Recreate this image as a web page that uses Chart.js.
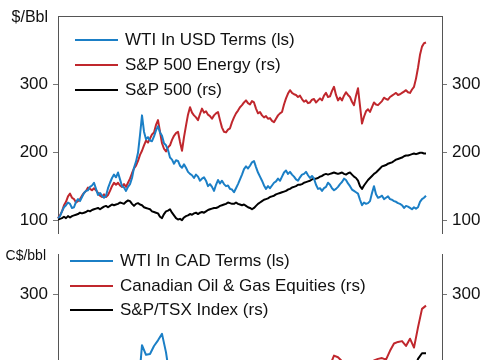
<!DOCTYPE html>
<html>
<head>
<meta charset="utf-8">
<script src="https://cdn.jsdelivr.net/npm/chart.js@4.4.1/dist/chart.umd.min.js"></script>
<style>
  html, body { margin:0; padding:0; background:#fff; }
  body { width:485px; height:360px; overflow:hidden; position:relative; font-family:"Liberation Sans", Arial, sans-serif; color:#111; }
  canvas { position:absolute; left:0; }
  #c1 { top:0; }
  #c2 { top:238px; }
  .unit { position:absolute; white-space:nowrap; text-align:right; }
  .leg { position:absolute; white-space:nowrap; font-size:17px; line-height:20px; height:20px; }
  .leg span.ln { position:absolute; top:9px; height:2px; }
  .leg span.tx { position:absolute; top:0; }
</style>
</head>
<body>
<canvas id="c1" width="485" height="249"></canvas>
<canvas id="c2" width="485" height="249"></canvas>

<div class="unit" style="left:0;width:48px;top:7px;font-size:16px;line-height:20px;">$/Bbl</div>
<div class="unit" style="left:0;width:46px;top:246px;font-size:14px;line-height:18px;">C$/bbl</div>

<div id="legTop"></div>
<div id="legBot"></div>

<script>
// ---------- DATA ----------
const tickValues = [100, 200, 300];
const nTop = 193;    // top panel periods across the full axis width
const nBottom = 97;  // bottom panel periods across the full axis width

// Top panel (rebased, $/Bbl & index)
const wtiUsd = [
  103,106,113,119,122,126,124,118,119,127,131,128,134,140,143,144,149,151,155,146,
  137,140,136,133,136,147,155,162,167,163,170,160,150,148,143,149,153,162,177,186,
  199,225,254,230,219,222,217,216,223,232,238,229,224,213,210,203,192,189,183,188,
  187,180,177,182,177,171,168,166,162,167,164,158,161,163,158,150,153,149,143,152,
  159,154,158,153,150,151,146,145,141,147,153,160,167,175,179,176,180,185,187,178,
  170,164,158,151,146,150,147,151,155,157,161,158,164,170,173,168,171,167,164,160,
  158,163,167,168,171,166,162,165,161,152,146,147,143,147,149,155,152,147,144,146,
  149,153,156,161,159,154,150,145,143,141,139,130,122,126,124,125,128,140,150,138,
  133,134,136,131,133,135,131,130,128,127,125,124,122,118,121,120,118,116,119,117,
  119,127,131,133,136];
const spEnergy = [
  103,107,113,122,127,135,139,133,131,126,128,131,136,140,143,148,146,144,147,144,
  140,136,134,138,134,137,143,150,155,152,155,151,149,153,149,155,161,169,176,180,
  187,196,202,210,217,214,220,226,229,240,247,230,213,205,201,207,210,218,224,228,
  230,215,202,222,239,255,266,258,254,251,247,256,264,258,260,255,253,249,254,257,
  259,247,236,230,229,233,235,244,251,257,261,266,269,273,276,272,270,275,273,264,
  257,259,254,251,253,249,250,246,244,249,254,257,259,270,279,286,291,287,285,284,
  281,283,278,274,276,272,273,277,278,273,276,279,276,283,287,281,282,290,296,284,
  276,280,276,283,288,284,281,274,269,283,294,268,242,252,260,263,259,266,273,270,
  269,272,275,280,278,277,281,283,285,287,284,285,287,289,291,288,287,292,296,308,
  324,343,355,360,361];
const sp500 = [
  101,102,103,105,103,106,104,106,107,108,109,111,110,111,112,114,113,115,116,117,
  118,116,118,120,121,119,121,123,122,123,124,126,125,124,127,129,128,124,121,124,
  125,123,122,119,118,117,116,113,112,111,110,105,103,109,113,114,116,111,107,103,
  101,102,100,104,106,107,109,108,110,111,109,111,112,111,113,115,116,117,118,118,
  119,121,122,123,124,126,125,124,124,126,124,123,122,123,121,119,118,116,118,121,
  124,126,128,130,131,132,134,135,136,138,139,140,141,142,143,145,146,148,149,150,
  152,152,153,155,156,157,158,160,161,161,162,164,165,167,168,167,168,169,170,169,
  168,169,170,168,167,169,170,167,164,162,158,150,146,151,155,159,162,165,168,170,
  173,176,179,180,181,183,184,185,187,189,190,191,192,194,195,195,196,197,198,197,
  198,199,199,198,198];

// Bottom panel (rebased, C$/bbl & index)
const wtiCad = [100,110,116,115,111,120,122,128,133,138,
  124,123,121,136,146,148,133,128,136,156,
  178,237,225,226,236,243,251,228,195,172,
  168,160,158,150,146,148,146,143,140,132,
  142,141,135,133,128,136,150,162,165,172,
  158,150,140,142,150,156,160,168,166,160,
  155,162,166,158,156,142,140,146,150,144,
  148,154,157,148,142,138,118,122,126,150,
  132,135,132,130,126,124,120,119,116,118,
  118,128,134];
const canOilGas = [100,108,115,124,120,122,128,135,138,140,
  135,130,132,140,150,152,146,148,155,165,
  172,180,188,185,190,198,175,165,170,178,
  180,165,180,190,185,180,188,185,180,178,
  182,170,165,168,175,180,185,190,186,188,
  175,170,165,160,155,158,162,170,175,172,
  168,170,172,168,170,175,178,185,212,224,
  222,217,205,190,185,188,160,175,195,218,
  220,221,219,230,239,241,242,236,245,234,
  259,282,286];
const tsx = [100,103,105,108,110,113,116,120,124,128,
  130,133,136,140,144,148,150,152,155,150,
  152,145,140,130,115,105,110,118,125,130,
  134,128,130,134,128,125,126,130,134,132,
  130,133,136,140,142,144,146,148,150,142,
  136,130,138,144,150,152,155,156,158,160,
  156,158,160,162,164,160,164,168,170,168,
  170,172,174,170,168,160,140,152,162,168,
  174,180,186,192,196,194,192,190,195,205,
  220,227,227];

const topLegend = ['WTI In USD Terms (ls)', 'S&P 500 Energy (rs)', 'S&P 500 (rs)'];
const botLegend = ['WTI In CAD Terms (ls)', 'Canadian Oil & Gas Equities (rs)', 'S&P/TSX Index (rs)'];

// ---------- STYLE ----------
const BLUE = '#1b7fc6', RED = '#c0272d', BLACK = '#000000';
const FONT = '"Liberation Sans", Arial, sans-serif';

function periodLabels(n, monthsPerStep) {
  const out = [];
  for (let i = 0; i < n; i++) {
    const m = Math.round(i * monthsPerStep);
    out.push((2003 + Math.floor(m / 12)) + '-' + String(m % 12 + 1).padStart(2, '0'));
  }
  return out;
}
const periodsTop = periodLabels(nTop, 1.25);
const periodsBottom = periodLabels(nBottom, 2.5);

function yAxis(pos, min, max, width) {
  return {
    position: pos, min: min, max: max,
    afterBuildTicks: s => { s.ticks = tickValues.map(v => ({ value: v })); },
    afterFit: s => { s.width = width; },
    ticks: { padding: 5, color: '#111', font: { size: 17, family: FONT } },
    grid: { drawOnChartArea: false, drawTicks: true, tickLength: 5, color: '#777', lineWidth: 1 },
    border: { display: true, color: '#555', width: 1 }
  };
}

function makeChart(id, labels, series, colors, min, max, topBorder) {
  return new Chart(document.getElementById(id), {
    type: 'line',
    data: {
      labels: labels,
      datasets: series.map((d, k) => ({
        data: d, borderColor: colors[k], borderWidth: 2, pointRadius: 0,
        tension: 0, yAxisID: k === 0 ? 'y' : 'y1', fill: false,
        borderJoinStyle: 'round'
      }))
    },
    options: {
      responsive: false, animation: false, devicePixelRatio: 1,
      layout: { padding: { top: 16, bottom: 8, left: 0, right: 0 } },
      plugins: { legend: { display: false }, tooltip: { enabled: false } },
      scales: {
        x: {
          type: 'category', position: 'top', offset: false,
          ticks: { display: false },
          grid: { display: false, drawTicks: false },
          border: { display: topBorder, color: '#555', width: 1 },
          afterFit: s => { s.height = 0; }
        },
        y: yAxis('left', min, max, 58),
        y1: yAxis('right', min, max, 43)
      }
    }
  });
}

makeChart('c1', periodsTop, [wtiUsd, spEnergy, sp500], [BLUE, RED, BLACK], 80, 400, true);
makeChart('c2', periodsBottom, [wtiCad, canOilGas, tsx], [BLUE, RED, BLACK], 80, 350, false);

// HTML legends (real text)
function buildLegend(elId, names, lineX, textX, centers) {
  const el = document.getElementById(elId);
  const cols = [BLUE, RED, BLACK];
  names.forEach((n, k) => {
    const row = document.createElement('div');
    row.className = 'leg';
    row.style.left = '0px';
    row.style.top = (centers[k] - 10) + 'px';
    const ln = document.createElement('span');
    ln.className = 'ln';
    ln.style.left = lineX[0] + 'px';
    ln.style.width = (lineX[1] - lineX[0]) + 'px';
    ln.style.background = cols[k];
    const tx = document.createElement('span');
    tx.className = 'tx';
    tx.style.left = textX + 'px';
    tx.textContent = n;
    row.appendChild(ln); row.appendChild(tx);
    el.appendChild(row);
  });
}
buildLegend('legTop', topLegend, [75, 118], 125, [40, 65, 90]);
buildLegend('legBot', botLegend, [70, 113], 120, [261, 286, 310]);
</script>
</body>
</html>
